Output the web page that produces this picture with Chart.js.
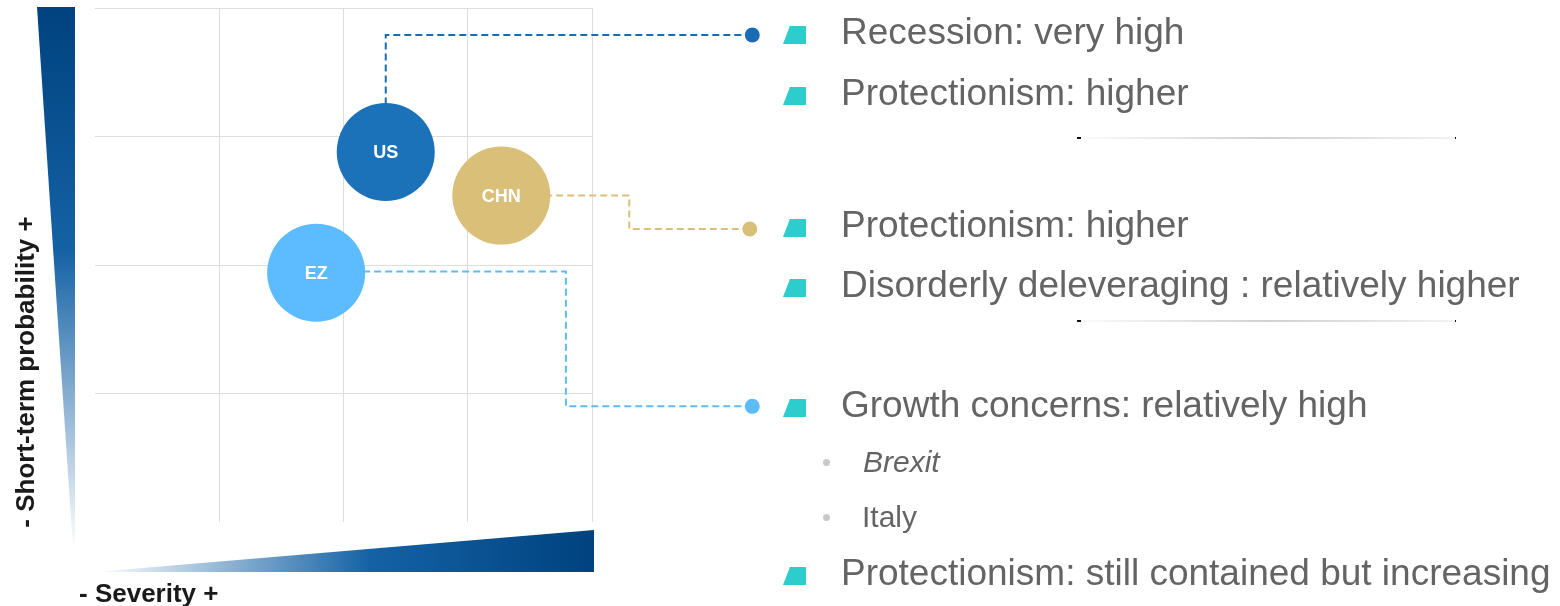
<!DOCTYPE html>
<html>
<head>
<meta charset="utf-8">
<script src="https://cdn.jsdelivr.net/npm/chart.js@4"></script>
<style>
  html, body { margin: 0; padding: 0; background: #fff; overflow: hidden; }
  #wrap { position: relative; width: 1560px; height: 606px; font-family: "Liberation Sans", Arial, sans-serif; }
  #riskChart { position: absolute; left: 0; top: 0; }
  .risk { position: absolute; white-space: nowrap; color: #646464; }
  .main { font-size: 37px; line-height: 37px; }
  .sub { font-size: 30px; line-height: 30px; }
  .bullet { position: absolute; width: 23px; height: 18px; background: #2dcdcd;
            clip-path: polygon(30% 0, 100% 0, 100% 100%, 0 100%); }
  .dot { position: absolute; width: 7px; height: 7px; border-radius: 50%; background: #c9c9c9; }
  .sep { position: absolute; left: 1077px; width: 374px; height: 2px;
         background: linear-gradient(to right, #fbfbfb, #d0d0d0 50%, #f2f2f2);
         border-left: 4px solid #111; border-right: 1px solid #111; }
</style>
</head>
<body>
<div id="wrap">
  <canvas id="riskChart" width="1560" height="606"></canvas>
</div>
<script>
// --- Data ---
const countries = ['US', 'CHN', 'EZ'];
const severity = [2.34, 3.27, 1.78];      // x: severity
const probability = [2.88, 2.54, 1.94];   // y: short-term probability

// connector paths (chart units), from the list marker back to each bubble
const usLinkX = [5.29, 2.34, 2.34];
const usLinkY = [3.79, 3.79, 2.88];
const chnLinkX = [5.27, 4.30, 4.30, 3.27];
const chnLinkY = [2.28, 2.28, 2.54, 2.54];
const ezLinkX = [5.29, 3.79, 3.79, 1.78];
const ezLinkY = [0.90, 0.90, 1.95, 1.95];

const usRisks = ['Recession: very high', 'Protectionism: higher'];
const chnRisks = ['Protectionism: higher', 'Disorderly deleveraging : relatively higher'];
const ezRisks = ['Growth concerns: relatively high', 'Protectionism: still contained but increasing'];
const ezSubRisks = ['Brexit', 'Italy'];

const xTitle = '- Severity +';
const yTitle = '- Short-term probability +';

// --- Styles ---
const bubbleColors = ['#1b72b8', '#d9bf77', '#5cbcff'];
const linkColors = ['#1a6cb2', '#d9bf77', '#5cbcf8'];
const navy = '#00427f';

// --- Right-hand risk lists (HTML text) ---
const wrap = document.getElementById('wrap');

function addLine(text, baseline, cls, left, extra) {
    const el = document.createElement('div');
    el.className = 'risk ' + cls;
    el.textContent = text;
    const off = cls === 'main' ? 31.3 : 25.4;
    el.style.left = left + 'px';
    el.style.top = (baseline - off) + 'px';
    if (extra) el.style.fontStyle = extra;
    wrap.appendChild(el);
}
function addBullet(baseline) {
    const b = document.createElement('div');
    b.className = 'bullet';
    b.style.left = '783px';
    b.style.top = (baseline - 18) + 'px';
    wrap.appendChild(b);
}
function addDot(baseline) {
    const d = document.createElement('div');
    d.className = 'dot';
    d.style.left = '823px';
    d.style.top = (baseline - 13) + 'px';
    wrap.appendChild(d);
}
function addSep(y) {
    const s = document.createElement('div');
    s.className = 'sep';
    s.style.top = y + 'px';
    wrap.appendChild(s);
}

const mainLines = [
    [usRisks[0], 44], [usRisks[1], 105],
    [chnRisks[0], 237], [chnRisks[1], 297],
    [ezRisks[0], 417], [ezRisks[1], 585]
];
mainLines.forEach(([t, y]) => { addBullet(y); addLine(t, y, 'main', 841); });
addDot(472); addLine(ezSubRisks[0], 472, 'sub', 863, 'italic');
addDot(527); addLine(ezSubRisks[1], 527, 'sub', 862);
addSep(137);
addSep(320);

// --- Chart decorations: gradient wedges, axis titles, bubble labels, link markers ---
const decorPlugin = {
    id: 'decor',
    beforeDraw(chart) {
        const { ctx, chartArea: a } = chart;
        ctx.save();
        // vertical wedge (probability)
        let g = ctx.createLinearGradient(0, a.top - 1, 0, a.bottom + 27);
        g.addColorStop(0, navy);
        g.addColorStop(0.45, '#1462a5');
        g.addColorStop(1, '#ffffff');
        ctx.fillStyle = g;
        ctx.beginPath();
        ctx.moveTo(a.left - 58, a.top - 1);
        ctx.lineTo(a.left - 20, a.top - 1);
        ctx.lineTo(a.left - 20, a.bottom + 27);
        ctx.lineTo(a.left - 22, a.bottom + 27);
        ctx.closePath();
        ctx.fill();
        // horizontal wedge (severity)
        g = ctx.createLinearGradient(a.left, 0, a.right + 2, 0);
        g.addColorStop(0, '#ffffff');
        g.addColorStop(0.55, '#1462a5');
        g.addColorStop(1, navy);
        ctx.fillStyle = g;
        ctx.beginPath();
        ctx.moveTo(a.left, a.bottom + 50);
        ctx.lineTo(a.right + 2, a.bottom + 8);
        ctx.lineTo(a.right + 2, a.bottom + 50);
        ctx.closePath();
        ctx.fill();
        // axis titles
        ctx.fillStyle = '#1a1a1a';
        ctx.font = 'bold 26px "Liberation Sans", Arial, sans-serif';
        ctx.textAlign = 'left';
        ctx.textBaseline = 'alphabetic';
        ctx.fillText(xTitle, a.left - 16, a.bottom + 80);
        ctx.translate(a.left - 61.5, (a.top + a.bottom) / 2 + 107);
        ctx.rotate(-Math.PI / 2);
        ctx.textAlign = 'center';
        ctx.fillText(yTitle, 0, 0);
        ctx.restore();
    },
    afterDatasetsDraw(chart) {
        const { ctx } = chart;
        ctx.save();
        // round markers at the list end of each connector
        for (let d = 1; d <= 3; d++) {
            const p = chart.getDatasetMeta(d).data[0];
            ctx.fillStyle = linkColors[d - 1];
            ctx.beginPath();
            ctx.arc(p.x, p.y, 7.5, 0, Math.PI * 2);
            ctx.fill();
        }
        // bubble labels
        const meta = chart.getDatasetMeta(0);
        ctx.fillStyle = '#ffffff';
        ctx.font = 'bold 18px "Liberation Sans", Arial, sans-serif';
        ctx.textAlign = 'center';
        ctx.textBaseline = 'middle';
        meta.data.forEach((el, i) => ctx.fillText(countries[i], el.x, el.y + 1));
        ctx.restore();
    }
};

function linkDataset(xs, ys, color) {
    return {
        type: 'line',
        data: xs.map((x, i) => ({ x: x, y: ys[i] })),
        borderColor: color,
        backgroundColor: color,
        borderWidth: 2,
        borderDash: [7, 4],
        tension: 0,
        fill: false,
        clip: false,
        order: 1,
        pointRadius: 0
    };
}

const gridColor = ctx => ctx.tick && ctx.tick.value === 0 ? 'rgba(0,0,0,0)' : '#dedede';

new Chart(document.getElementById('riskChart'), {
    type: 'bubble',
    data: {
        datasets: [
            {
                data: countries.map((c, i) => ({ x: severity[i], y: probability[i] })),
                backgroundColor: bubbleColors,
                borderWidth: 0,
                radius: 49,
                order: 0
            },
            linkDataset(usLinkX, usLinkY, linkColors[0]),
            linkDataset(chnLinkX, chnLinkY, linkColors[1]),
            linkDataset(ezLinkX, ezLinkY, linkColors[2])
        ]
    },
    options: {
        responsive: false,
        animation: false,
        events: [],
        layout: { autoPadding: false, padding: { left: 95, right: 968, top: 8, bottom: 84 } },
        plugins: {
            legend: { display: false },
            tooltip: { enabled: false }
        },
        scales: {
            x: {
                type: 'linear', min: 0, max: 4,
                ticks: { display: false, stepSize: 1 },
                grid: { color: gridColor, drawTicks: false },
                border: { display: false }
            },
            y: {
                type: 'linear', min: 0, max: 4,
                ticks: { display: false, stepSize: 1 },
                grid: { color: gridColor, drawTicks: false },
                border: { display: false }
            }
        }
    },
    plugins: [decorPlugin]
});
</script>
</body>
</html>
